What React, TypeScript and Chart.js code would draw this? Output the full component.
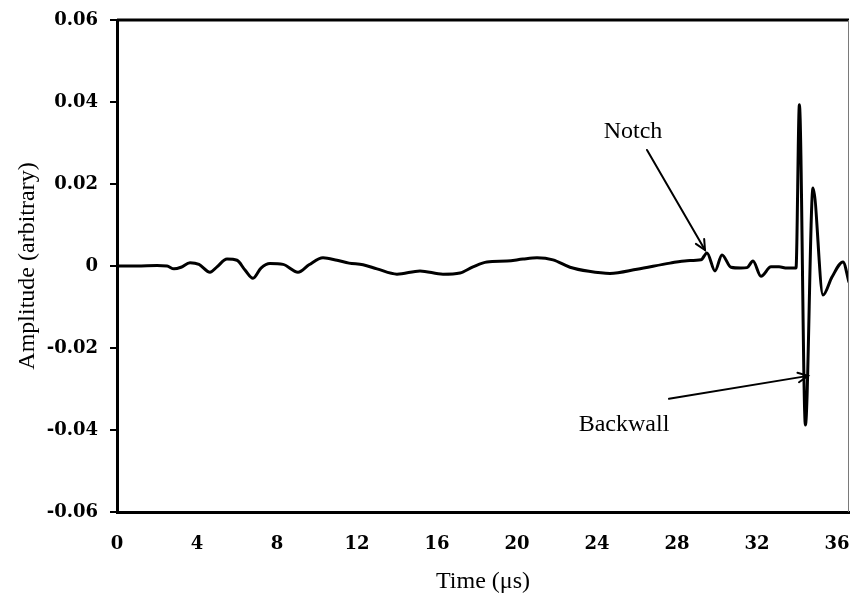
import React, { useEffect, useRef } from 'react';
import { Chart, registerables } from 'chart.js';

Chart.register(...registerables);

// Time in microseconds
const timeUs = [
  0, 1, 2, 2.5, 2.85, 3.2, 3.65, 4.1, 4.65, 5.0, 5.5, 6.0, 6.4, 6.8, 7.2, 7.65, 8.3, 9.05, 9.6, 10.3,
  11.0, 11.6, 12.3, 13.0, 14.0, 15.15, 16.3, 17.15, 17.8, 18.5, 19.5, 20.3, 21.0, 21.8, 22.65, 23.6,
  24.65, 26.0, 27.65, 28.5, 29.2, 29.5, 29.9, 30.25, 30.7, 31.2, 31.5, 31.8, 32.2, 32.7, 33.1, 33.5,
  33.95, 34.12, 34.42, 34.8, 35.3, 35.75, 36.3, 36.6,
];
// Amplitude (arbitrary)
const amplitude = [
  0, 0, 0.0001, 0, -0.0007, -0.0003, 0.0008, 0.0004, -0.0015, -0.0002, 0.0017, 0.0014, -0.001, -0.003,
  -0.0005, 0.0006, 0.0004, -0.0015, 0.0003, 0.002, 0.0014, 0.0007, 0.0003, -0.0007, -0.002, -0.0012,
  -0.002, -0.0017, -0.0002, 0.001, 0.0012, 0.0017, 0.002, 0.0015, -0.0003, -0.0013, -0.0018, -0.0008,
  0.0007, 0.0013, 0.0015, 0.0032, -0.0012, 0.0027, -0.0003, -0.0005, -0.0004, 0.0012, -0.0025, -0.0002,
  -0.0002, -0.0005, -0.0005, 0.0393, -0.0388, 0.019, -0.0071, -0.0027, 0.001, -0.004,
];

const xTickValues = [0, 4, 8, 12, 16, 20, 24, 28, 32, 36];
const xTickLabels = ['0', '4', '8', '12', '16', '20', '24', '28', '32', '36'];
const yTickValues = [-0.06, -0.04, -0.02, 0, 0.02, 0.04, 0.06];
const yTickLabels = ['-0.06', '-0.04', '-0.02', '0', '0.02', '0.04', '0.06'];

const xTitle = 'Time (\u03bcs)';
const yTitle = 'Amplitude (arbitrary)';

// Annotations (data coordinates)
const annotationLabels = ['Notch', 'Backwall'];
const annotationTextPos = [[25.8, 0.0327], [25.35, -0.0388]];
const arrowStart = [[26.5, 0.0283], [27.6, -0.0324]];
const arrowTip = [[29.4, 0.0039], [34.55, -0.0268]];

const SERIF = '"Liberation Serif", "Times New Roman", serif';
const TICK_FONT = '"DejaVu Serif", serif';

const framePlugin = {
  id: 'frameAndNotes',
  afterDatasetsDraw(chart: any) {
    const { ctx, chartArea, scales } = chart;
    const xs = scales.x;
    const ys = scales.y;
    ctx.save();
    // top border (thick) and right border (thin grey)
    ctx.strokeStyle = '#000';
    ctx.lineWidth = 3;
    ctx.beginPath();
    ctx.moveTo(chartArea.left, chartArea.top);
    ctx.lineTo(chartArea.right, chartArea.top);
    ctx.stroke();
    ctx.strokeStyle = '#7a7a7a';
    ctx.lineWidth = 1;
    ctx.beginPath();
    ctx.moveTo(chartArea.right - 0.5, chartArea.top);
    ctx.lineTo(chartArea.right - 0.5, chartArea.bottom);
    ctx.stroke();

    // arrows
    ctx.strokeStyle = '#000';
    ctx.lineWidth = 2;
    ctx.lineCap = 'round';
    for (let i = 0; i < arrowStart.length; i++) {
      const x1 = xs.getPixelForValue(arrowStart[i][0]);
      const y1 = ys.getPixelForValue(arrowStart[i][1]);
      const x2 = xs.getPixelForValue(arrowTip[i][0]);
      const y2 = ys.getPixelForValue(arrowTip[i][1]);
      ctx.beginPath();
      ctx.moveTo(x1, y1);
      ctx.lineTo(x2, y2);
      ctx.stroke();
      const ang = Math.atan2(y2 - y1, x2 - x1);
      const len = 11;
      const spread = 0.45;
      ctx.beginPath();
      ctx.moveTo(x2 - len * Math.cos(ang - spread), y2 - len * Math.sin(ang - spread));
      ctx.lineTo(x2, y2);
      ctx.lineTo(x2 - len * Math.cos(ang + spread), y2 - len * Math.sin(ang + spread));
      ctx.stroke();
    }

    // labels
    ctx.fillStyle = '#000';
    ctx.font = `24px ${SERIF}`;
    ctx.textAlign = 'center';
    ctx.textBaseline = 'middle';
    for (let i = 0; i < annotationLabels.length; i++) {
      ctx.fillText(
        annotationLabels[i],
        xs.getPixelForValue(annotationTextPos[i][0]),
        ys.getPixelForValue(annotationTextPos[i][1])
      );
    }
    ctx.restore();
  },
};

export default function App() {
  const canvasRef = useRef<HTMLCanvasElement | null>(null);

  useEffect(() => {
    const canvas = canvasRef.current;
    if (!canvas) return;
    const chart = new Chart(canvas, {
      type: 'line',
      data: {
        datasets: [
          {
            label: 'Signal',
            data: timeUs.map((t, i) => ({ x: t, y: amplitude[i] })),
            borderColor: '#000',
            borderWidth: 3,
            pointRadius: 0,
            fill: false,
            cubicInterpolationMode: 'monotone',
          },
        ],
      },
      options: {
        responsive: false,
        animation: false,
        devicePixelRatio: 1,
        layout: { autoPadding: false, padding: { left: 0, top: 20, right: 1, bottom: 0 } },
        plugins: {
          legend: { display: false },
          tooltip: { enabled: false },
        },
        scales: {
          x: {
            type: 'linear',
            min: 0,
            max: 36.6,
            afterBuildTicks: (scale: any) => {
              scale.ticks = xTickValues.map((v) => ({ value: v }));
            },
            afterFit: (scale: any) => {
              scale.height = 84;
              scale.paddingLeft = 0;
              scale.paddingRight = 0;
            },
            ticks: {
              callback: (_v: any, i: number) => xTickLabels[i],
              color: '#000',
              font: { family: TICK_FONT, size: 18, weight: 'bold' },
              padding: 22,
              maxRotation: 0,
              autoSkip: false,
              includeBounds: false,
            },
            grid: { display: false, drawTicks: false },
            border: { display: true, color: '#000', width: 3 },
            title: {
              display: true,
              text: xTitle,
              color: '#000',
              font: { family: SERIF, size: 24 },
              padding: { top: 0, bottom: 0 },
            },
          },
          y: {
            type: 'linear',
            min: -0.06,
            max: 0.06,
            afterBuildTicks: (scale: any) => {
              scale.ticks = yTickValues.map((v) => ({ value: v }));
            },
            afterFit: (scale: any) => {
              scale.width = 117;
              scale.paddingTop = 0;
              scale.paddingBottom = 0;
            },
            ticks: {
              callback: (_v: any, i: number) => yTickLabels[i],
              color: '#000',
              font: { family: TICK_FONT, size: 18, weight: 'bold' },
              padding: 12,
              autoSkip: false,
              includeBounds: false,
            },
            grid: {
              display: true,
              drawOnChartArea: false,
              drawTicks: true,
              tickLength: 7,
              color: '#000',
              lineWidth: 2,
            },
            border: { display: true, color: '#000', width: 3 },
            title: {
              display: true,
              text: yTitle,
              color: '#000',
              font: { family: SERIF, size: 24 },
              padding: { top: 13, bottom: 0 },
            },
          },
        },
      },
      plugins: [framePlugin],
    });
    return () => chart.destroy();
  }, []);

  return (
    <div style={{ position: 'absolute', left: 0, top: 0, width: 850, height: 596, background: '#fff' }}>
      <canvas ref={canvasRef} width={850} height={596} style={{ display: 'block' }} />
    </div>
  );
}
